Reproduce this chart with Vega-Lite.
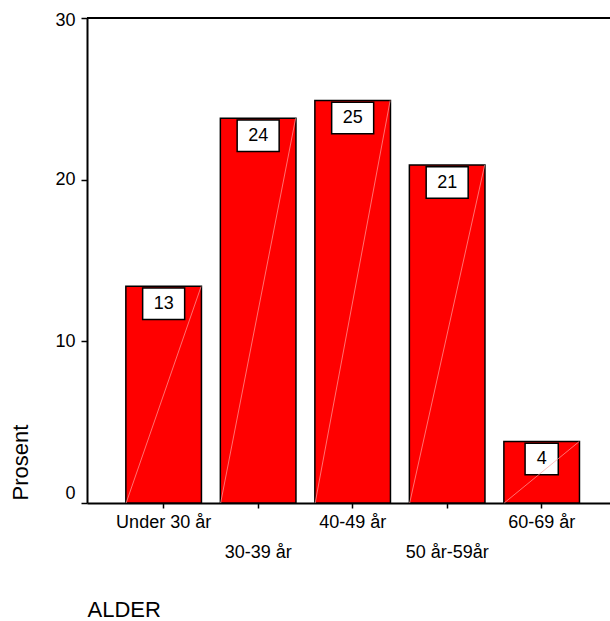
{
  "$schema": "https://vega.github.io/schema/vega-lite/v6.json",
  "width": 523,
  "height": 485,
  "autosize": "none",
  "padding": {"left": 87, "top": 18, "right": 0, "bottom": 118},
  "background": "white",
  "config": {"view": {"stroke": null}, "font": "Liberation Sans"},
  "data": {"values": [
    {"alder": "Under 30 år", "prosent": 13.4, "label": "13"},
    {"alder": "30-39 år", "prosent": 23.8, "label": "24"},
    {"alder": "40-49 år", "prosent": 24.9, "label": "25"},
    {"alder": "50 år-59år", "prosent": 20.9, "label": "21"},
    {"alder": "60-69 år", "prosent": 3.8, "label": "4"}
  ]},
  "layer": [
    {
      "encoding": {
        "x": {
          "field": "alder", "type": "nominal", "sort": null,
          "scale": {"paddingInner": 0.2, "paddingOuter": 0.367, "align": 0.56},
          "axis": {
            "title": "ALDER", "titleFontSize": 22, "titleFontWeight": "normal", "titleColor": "black",
            "titleAnchor": "start", "titleAlign": "left", "titleBaseline": "alphabetic", "titleX": 0, "titleY": 113,
            "labelAngle": 0, "labelFontSize": 18, "labelColor": "black", "labelOverlap": false, "labelFlush": false, "labelBound": false,
            "labelPadding": {"condition": {"test": "datum.value == '30-39 år' || datum.value == '50 år-59år'", "value": 35}, "value": 5},
            "tickSize": 5, "tickColor": "black", "tickWidth": 1.5, "domainColor": "black", "domainWidth": 2
          }
        },
        "y": {
          "field": "prosent", "type": "quantitative",
          "scale": {"domain": [0, 30], "nice": false},
          "axis": {
            "title": "Prosent", "values": [0, 10, 20, 30], "grid": false,
            "labelFontSize": 18, "labelColor": "black", "labelPadding": 6,
            "labelOffset": {"condition": [{"test": "datum.value == 0", "value": -10}, {"test": "datum.value == 30", "value": 2}], "value": 0},
            "tickSize": 6, "tickColor": "black", "tickWidth": 1.5, "domainColor": "black", "domainWidth": 2,
            "titleFontSize": 22, "titleFontWeight": "normal", "titleColor": "black", "titleAngle": -90,
            "titleX": -60, "titleY": 482, "titleAlign": "left", "titleBaseline": "alphabetic"
          }
        }
      },
      "layer": [
        {"mark": {"type": "bar", "fill": "#ff0000", "stroke": "black", "strokeWidth": 1.5}},
        {
          "mark": {"type": "point", "filled": true, "fill": "white", "stroke": "black", "strokeWidth": 1.5, "opacity": 1, "yOffset": 17.5, "size": 1764},
          "encoding": {"shape": {"condition": {"test": "datum.label == '4'", "value": "M-0.79,-0.75H0.79V0.75H-0.79Z"}, "value": "M-1,-0.75H1V0.75H-1Z"}}
        },
        {
          "mark": {"type": "rule", "color": "#ffa0a0", "strokeWidth": 0.7, "xOffset": -37.5, "x2Offset": 37.5},
          "encoding": {
            "x2": {"field": "alder"},
            "y": {"datum": 0, "type": "quantitative"},
            "y2": {"field": "prosent"}
          }
        },
        {
          "mark": {"type": "text", "fontSize": 18, "yOffset": 17.5, "baseline": "middle", "color": "black"},
          "encoding": {"text": {"field": "label"}}
        }
      ]
    },
    {
      "mark": {"type": "rule", "color": "black", "strokeWidth": 2},
      "encoding": {"y": {"datum": 30, "type": "quantitative"}}
    }
  ]
}
